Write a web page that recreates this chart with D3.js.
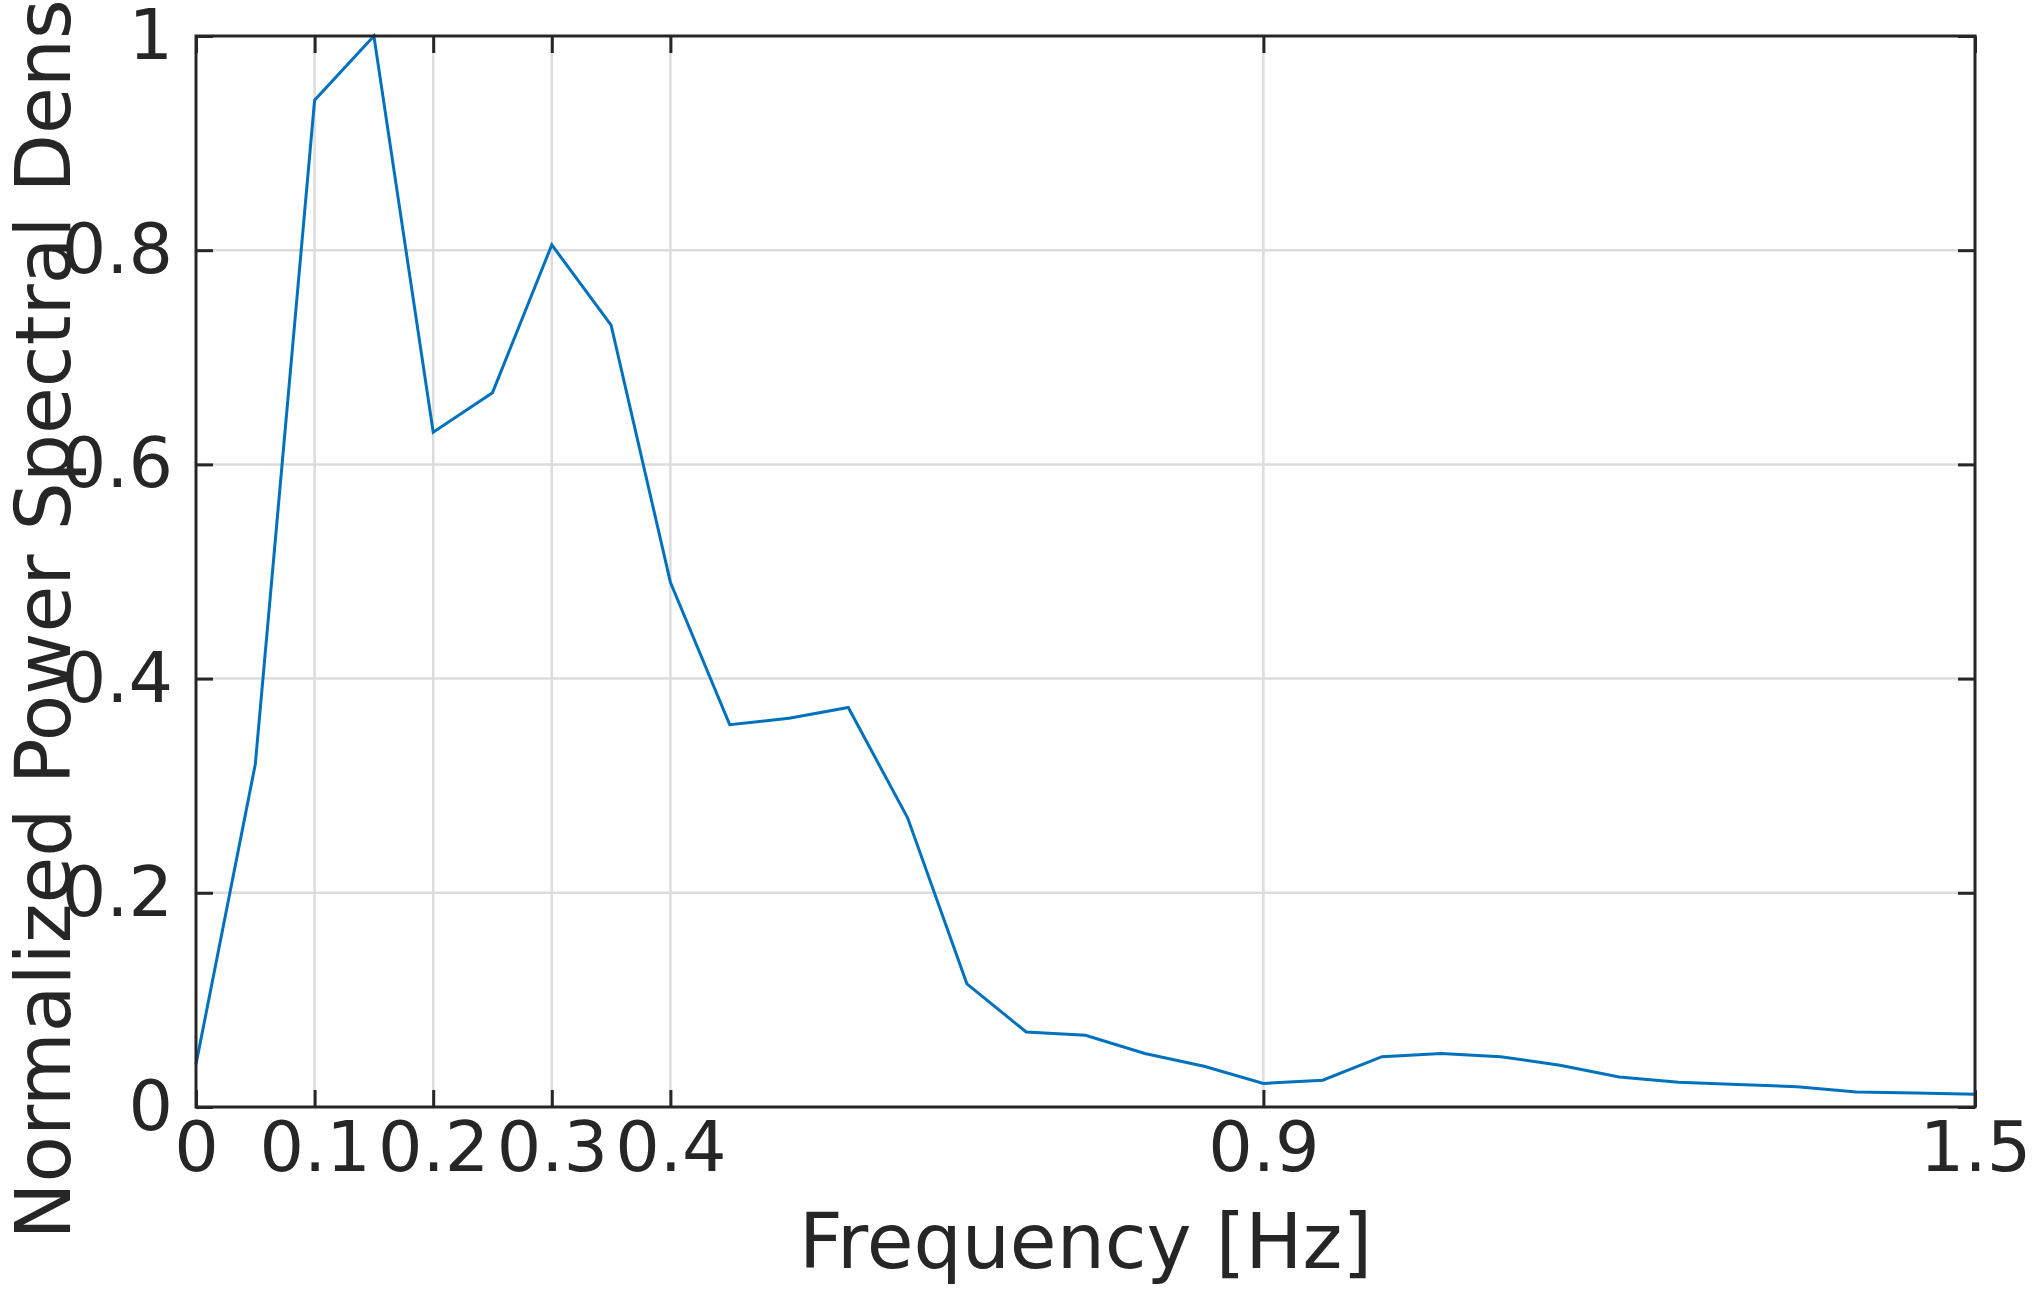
<!DOCTYPE html>
<html><head><meta charset="utf-8">
<script src="https://cdn.jsdelivr.net/npm/d3@7"></script>
<style>body{margin:0;background:#fff}svg{display:block}text{font-family:"Liberation Sans Narrow","DejaVu Sans",sans-serif;fill:#262626}</style>
</head><body><svg id="c" width="2039" height="1296"></svg>
<script>
var freq = [0,0.05,0.1,0.15,0.2,0.25,0.3,0.35,0.4,0.45,0.5,0.55,0.6,0.65,0.7,0.75,0.8,0.85,0.9,0.95,1.0,1.05,1.1,1.15,1.2,1.25,1.3,1.35,1.4,1.45,1.5];
var psd = [0.04,0.32,0.94,1.0,0.63,0.667,0.805,0.73,0.49,0.357,0.363,0.373,0.27,0.115,0.07,0.067,0.05,0.038,0.022,0.025,0.047,0.05,0.047,0.039,0.028,0.023,0.021,0.019,0.014,0.013,0.012];
var xTicks = [0,0.1,0.2,0.3,0.4,0.9,1.5];
var yTicks = [0,0.2,0.4,0.6,0.8,1];

var L = 196, R = 1975, T = 36, B = 1107;
var svg = d3.select('#c');
var x = d3.scaleLinear().domain([0, 1.5]).range([L, R]);
var y = d3.scaleLinear().domain([0, 1]).range([B, T]);

// grid
svg.append('g').selectAll('line').data(xTicks.filter(d => d > 0 && d < 1.5)).enter().append('line')
  .attr('x1', d => x(d)).attr('x2', d => x(d)).attr('y1', T).attr('y2', B)
  .attr('stroke', '#dcdcdc').attr('stroke-width', 2.5);
svg.append('g').selectAll('line').data(yTicks.filter(d => d > 0 && d < 1)).enter().append('line')
  .attr('y1', d => y(d)).attr('y2', d => y(d)).attr('x1', L).attr('x2', R)
  .attr('stroke', '#dcdcdc').attr('stroke-width', 2.5);

// line
svg.append('path').datum(d3.zip(freq, psd))
  .attr('fill', 'none').attr('stroke', '#0072BD').attr('stroke-width', 3)
  .attr('d', d3.line().x(d => x(d[0])).y(d => y(d[1])));

// axes, ticks inward
var fmt = d => d === 0 ? '0' : d === 1 ? '1' : String(d);
var ax = function (g) { g.select('.domain').remove(); g.selectAll('.tick line').attr('stroke', '#262626').attr('stroke-width', 3); g.selectAll('text').style('font-size', '70px').style('fill', '#262626'); };
svg.append('g').attr('transform', 'translate(0,' + B + ')')
  .call(d3.axisBottom(x).tickValues(xTicks).tickFormat(fmt).tickSizeInner(-17).tickPadding(14)).call(ax);
svg.append('g').attr('transform', 'translate(0,' + T + ')')
  .call(d3.axisTop(x).tickValues(xTicks).tickFormat('').tickSizeInner(-17)).call(ax);
svg.append('g').attr('transform', 'translate(' + L + ',0)')
  .call(d3.axisLeft(y).tickValues(yTicks).tickFormat(fmt).tickSizeInner(-17).tickPadding(23)).call(ax);
svg.append('g').attr('transform', 'translate(' + R + ',0)')
  .call(d3.axisRight(y).tickValues(yTicks).tickFormat('').tickSizeInner(-17)).call(ax);

svg.append('rect').attr('x', L).attr('y', T).attr('width', R - L).attr('height', B - T)
  .attr('fill', 'none').attr('stroke', '#262626').attr('stroke-width', 3);

svg.append('text').attr('x', (L + R) / 2).attr('y', 1268).attr('text-anchor', 'middle')
  .style('font-size', '76px').text('Frequency [Hz]');
svg.append('text').attr('transform', 'translate(70,' + (T + B) / 2 + ') rotate(-90)')
  .attr('text-anchor', 'middle').style('font-size', '76px').text('Normalized Power Spectral Density');
</script></body></html>
